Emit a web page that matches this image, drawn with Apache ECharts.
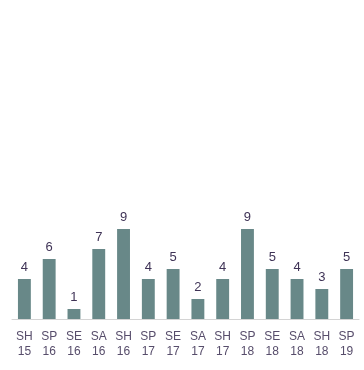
<!DOCTYPE html>
<html><head><meta charset="utf-8">
<script src="https://cdn.jsdelivr.net/npm/echarts@6/dist/echarts.min.js"></script>
<style>html,body{margin:0;padding:0;background:#fff}#c{width:364px;height:370px}</style>
</head><body><div id="c"></div>
<script>
var categories = ["SH\n15","SP\n16","SE\n16","SA\n16","SH\n16","SP\n17","SE\n17","SA\n17","SH\n17","SP\n18","SE\n18","SA\n18","SH\n18","SP\n19"];
var values = [4,6,1,7,9,4,5,2,4,9,5,4,3,5];
var chart = echarts.init(document.getElementById('c'));
chart.setOption({
  animation: false,
  grid: {left: 12, right: 5, top: 19, bottom: 51, containLabel: false},
  xAxis: {
    type: 'category', data: categories,
    axisLine: {lineStyle: {color: '#d4d4d4'}},
    axisTick: {show: false},
    axisLabel: {color: '#574d6b', fontSize: 12, lineHeight: 15, margin: 10, fontFamily: 'Arial, Liberation Sans, sans-serif', interval: 0}
  },
  yAxis: {type: 'value', min: 0, max: 30, show: false, splitLine: {show: false}},
  series: [{
    type: 'bar', data: values, barWidth: '52%',
    itemStyle: {color: '#688888'},
    label: {show: true, position: 'top', distance: 5, color: '#3f3356', fontSize: 13, fontFamily: 'Arial, Liberation Sans, sans-serif'}
  }]
});
</script></body></html>
